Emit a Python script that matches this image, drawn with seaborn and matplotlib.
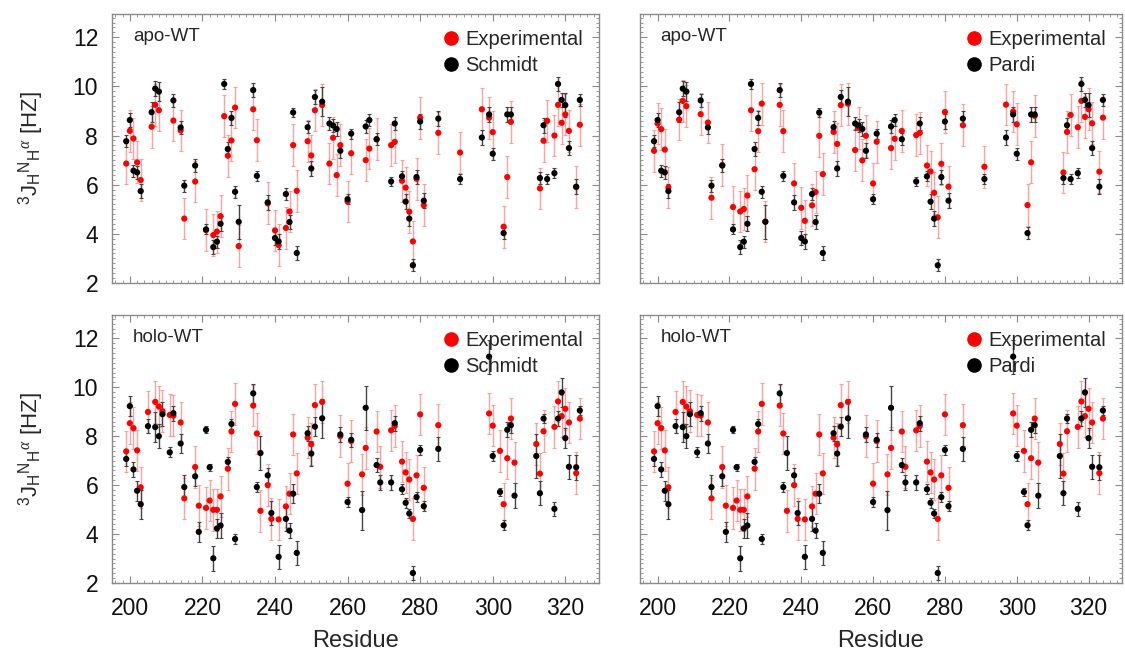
import numpy as np
import pandas as pd
import matplotlib
matplotlib.use('Agg')
import matplotlib.pyplot as plt
import seaborn as sns
from matplotlib.lines import Line2D
from matplotlib.ticker import MultipleLocator

# apo-WT (top row); calculated values are the same in both panels
apo_res = [199, 200, 201, 202, 203, 206, 207, 208, 212, 214, 215, 218, 221, 223, 224, 225,
           226, 227, 228, 229, 230, 234, 235, 238, 240, 241, 243, 244, 245, 246, 249, 250,
           251, 253, 255, 256, 257, 258, 260, 261, 265, 266, 268, 272, 273, 275, 276, 277,
           278, 279, 280, 281, 285, 291, 297, 299, 300, 303, 304, 305, 313, 314, 315, 317,
           318, 319, 320, 321, 323, 324]
apo_calc = [7.77, 8.63, 6.57, 6.5, 5.74, 8.95, 9.91, 9.79, 9.43, 8.33, 5.96, 6.78, 4.18, 3.46,
            3.68, 4.41, 10.1, 7.45, 8.72, 5.71, 4.49, 9.85, 6.36, 5.28, 3.83, 3.69, 5.62, 4.48,
            8.94, 3.22, 8.34, 6.66, 9.57, 9.38, 8.49, 8.41, 8.27, 7.38, 5.41, 8.08, 8.37, 8.63,
            7.85, 6.13, 8.49, 6.34, 5.31, 4.62, 2.72, 6.31, 8.57, 5.35, 8.69, 6.23, 7.92, 8.86,
            7.26, 4.03, 8.86, 8.86, 6.27, 8.42, 6.23, 6.47, 10.1, 9.45, 9.24, 7.49, 5.92, 9.45]
apo_calc_err = [0.25, 0.3, 0.25, 0.25, 0.3, 0.4, 0.3, 0.4, 0.25, 0.25, 0.25, 0.25, 0.2, 0.3,
                0.25, 0.3, 0.2, 0.3, 0.3, 0.25, 0.7, 0.3, 0.2, 0.3, 0.3, 0.3, 0.25, 0.3,
                0.2, 0.3, 0.25, 0.3, 0.3, 0.6, 0.25, 0.25, 0.3, 0.3, 0.2, 0.2, 0.25, 0.25,
                0.25, 0.2, 0.25, 0.2, 0.3, 0.3, 0.25, 0.3, 0.3, 0.3, 0.3, 0.2, 0.3, 0.3,
                0.25, 0.25, 0.3, 0.3, 0.25, 0.3, 0.2, 0.2, 0.3, 0.3, 0.5, 0.3, 0.3, 0.25]
apo_exp_schmidt = [6.86, 8.19, 7.88, 6.91, 6.19, 8.36, 9.25, 9.03, 8.61, 8.21, 4.62, 6.13, 4.15,
                   3.95, 4.09, 4.72, 8.79, 7.18, 7.8, 9.14, 3.5, 9.07, 7.81, 5.24, 4.14, 3.54,
                   4.24, 4.91, 7.61, 5.75, 7.77, 7.19, 9.03, 9.24, 6.86, 7.91, 6.39, 7.61, 5.32,
                   7.28, 7.0, 7.47, 7.85, 7.61, 7.74, 6.16, 5.88, 4.9, 3.69, 6.24, 8.73, 5.16,
                   8.11, 7.31, 9.07, 8.73, 8.14, 4.29, 6.31, 8.56, 5.85, 7.79, 8.6, 8.0, 9.25,
                   8.52, 8.86, 8.19, 5.9, 8.44]
apo_exp_pardi = [7.38, 8.49, 8.26, 7.43, 5.89, 8.65, 9.41, 9.2, 8.87, 8.53, 5.47, 6.8, 5.09,
                 4.91, 5.01, 5.56, 9.03, 6.63, 8.18, 9.3, 4.5, 9.25, 8.18, 6.05, 5.06, 4.53,
                 5.16, 5.7, 7.99, 6.43, 8.15, 7.66, 9.24, 9.3, 7.41, 8.31, 6.99, 7.99, 6.05,
                 7.75, 7.49, 7.87, 8.19, 8.02, 8.11, 6.78, 6.54, 5.67, 4.67, 6.85, 8.96, 5.92,
                 8.42, 6.73, 9.26, 8.98, 8.46, 5.17, 6.91, 8.8, 6.5, 8.15, 8.84, 8.34, 9.41,
                 8.76, 9.07, 8.5, 6.53, 8.73]

# holo-WT (bottom row); both panels show the same values
holo_res = [199, 200, 201, 202, 203, 205, 207, 208, 209, 211, 212, 214, 215, 218, 219, 221,
            222, 223, 224, 225, 227, 228, 229, 234, 235, 236, 238, 239, 241, 243, 244, 245,
            246, 249, 250, 251, 253, 258, 260, 261, 264, 265, 268, 269, 272, 273, 275, 276,
            277, 278, 279, 280, 281, 285, 299, 300, 302, 303, 304, 305, 306, 312, 313, 314,
            317, 318, 319, 320, 321, 323, 324]
holo_calc = [7.07, 9.23, 6.64, 5.77, 5.22, 8.41, 8.37, 8.0, 8.9, 7.34, 8.94, 7.7, 5.92, 6.36,
             4.09, 8.26, 6.73, 3.01, 4.23, 4.35, 6.95, 8.5, 3.8, 9.75, 5.92, 7.31, 6.4, 4.86,
             3.07, 4.62, 4.14, 5.65, 3.23, 8.12, 7.29, 8.39, 8.73, 8.07, 5.31, 7.85, 4.98, 9.16,
             6.82, 6.11, 6.11, 8.53, 5.83, 5.28, 4.84, 2.41, 5.51, 7.44, 5.14, 7.48, 11.25, 7.19,
             5.72, 4.36, 8.26, 8.45, 5.57, 7.19, 5.67, 8.72, 5.03, 8.72, 9.79, 7.92, 6.75, 6.73,
             9.05]
holo_calc_err = [0.3, 0.4, 0.3, 0.4, 0.6, 0.3, 0.6, 0.5, 0.5, 0.2, 0.3, 0.4, 0.5, 0.4, 0.4,
                 0.15, 0.15, 0.5, 0.4, 0.5, 0.2, 0.2, 0.2, 0.4, 0.2, 0.7, 0.3, 0.5, 0.5, 0.5,
                 0.3, 0.4, 0.5, 0.3, 0.5, 0.4, 0.8, 0.3, 0.2, 0.3, 0.8, 0.9, 0.3, 0.3, 0.3,
                 0.3, 0.2, 0.2, 0.2, 0.3, 0.2, 0.2, 0.2, 0.5, 0.7, 0.2, 0.15, 0.2, 0.3, 0.3,
                 0.5, 0.9, 0.5, 0.2, 0.3, 0.3, 0.6, 0.4, 0.5, 0.5, 0.2]
holo_exp = [7.38, 8.53, 8.33, 7.42, 5.91, 8.99, 9.4, 9.21, 9.02, 8.87, 8.84, 8.56, 5.46, 6.74,
            5.16, 5.07, 5.37, 4.99, 4.99, 5.54, 6.67, 8.19, 9.32, 9.25, 8.11, 4.95, 6.0, 4.62,
            4.6, 5.13, 5.65, 8.07, 6.48, 7.94, 7.67, 9.27, 9.4, 8.0, 6.06, 7.8, 6.44, 7.52,
            8.19, 6.75, 8.24, 8.42, 6.96, 6.52, 6.23, 4.62, 6.4, 8.89, 5.89, 8.45, 8.93, 8.43,
            7.4, 5.22, 7.1, 8.72, 6.92, 7.68, 6.47, 8.2, 8.38, 9.42, 8.82, 9.12, 8.56, 6.49,
            8.72]
exp_err = 0.85

sns.set_style('ticks')
plt.rcParams['font.family'] = ['Liberation Sans', 'DejaVu Sans']
plt.rcParams['mathtext.fontset'] = 'custom'
plt.rcParams['mathtext.rm'] = 'Liberation Sans'
plt.rcParams['mathtext.it'] = 'Liberation Serif:italic'

ylab = r'$^{3}\mathrm{J}_{\mathrm{H}}{}^{\mathrm{N}}{}_{\mathrm{H}}{}^{\alpha}$ [HZ]'


def draw_panel(ax, res, exp, calc, calc_err, name, model, left, bottom):
    df = pd.DataFrame({'residue': list(res) + list(res),
                       'J': list(exp) + list(calc),
                       'source': ['Experimental'] * len(res) + [model] * len(res)})
    ax.errorbar(res, exp, yerr=exp_err, fmt='none', ecolor='#ff8a8a', elinewidth=1,
                capsize=1.5, capthick=0.8, alpha=0.8, zorder=1)
    ax.errorbar(res, calc, yerr=calc_err, fmt='none', ecolor='#444444', elinewidth=1,
                capsize=1.5, capthick=0.8, zorder=2)
    sns.scatterplot(data=df, x='residue', y='J', hue='source',
                    palette={'Experimental': 'red', model: 'black'},
                    s=20, linewidth=0, legend=False, ax=ax, zorder=3)
    ax.set_xlim(195.1, 329.3)
    ax.set_ylim(2, 12.95)
    ax.xaxis.set_major_locator(MultipleLocator(20))
    ax.xaxis.set_minor_locator(MultipleLocator(2))
    ax.yaxis.set_major_locator(MultipleLocator(2))
    ax.yaxis.set_minor_locator(MultipleLocator(0.2))
    ax.tick_params(which='both', direction='in', top=True, right=True, color='#8a8a8a',
                   labelsize=16.5, labelcolor='#111111')
    ax.tick_params(which='major', length=5, width=0.8)
    ax.tick_params(which='minor', length=2.5, width=0.6)
    ax.tick_params(axis='x', pad=10)
    ax.tick_params(axis='y', pad=10)
    for sp in ax.spines.values():
        sp.set_color('#8a8a8a')
        sp.set_linewidth(1)
    ax.set_xlabel('Residue' if bottom else '', fontsize=17, labelpad=7)
    ax.set_ylabel(ylab if left else '', fontsize=16, labelpad=19)
    if not bottom:
        ax.tick_params(axis='x', labelbottom=False)
    if not left:
        ax.tick_params(axis='y', labelleft=False)
    ax.text(0.043, 0.915, name, transform=ax.transAxes, fontsize=13.5, va='center')
    handles = [Line2D([], [], marker='o', ls='', color='red', markersize=9.5),
               Line2D([], [], marker='o', ls='', color='black', markersize=9.5)]
    ax.legend(handles, ['Experimental', model], loc='upper right', frameon=False,
              fontsize=14.5, handletextpad=0.2, labelspacing=0.35, handlelength=1.0,
              borderaxespad=0.4)


fig = plt.figure(figsize=(11.25, 6.52), dpi=100)
ax1 = fig.add_axes([0.0996, 0.566, 0.4329, 0.4126])
ax2 = fig.add_axes([0.5689, 0.566, 0.4284, 0.4126])
ax3 = fig.add_axes([0.0996, 0.1058, 0.4329, 0.411])
ax4 = fig.add_axes([0.5689, 0.1058, 0.4284, 0.411])

draw_panel(ax1, apo_res, apo_exp_schmidt, apo_calc, apo_calc_err, 'apo-WT', 'Schmidt', True, False)
draw_panel(ax2, apo_res, apo_exp_pardi, apo_calc, apo_calc_err, 'apo-WT', 'Pardi', False, False)
draw_panel(ax3, holo_res, holo_exp, holo_calc, holo_calc_err, 'holo-WT', 'Schmidt', True, True)
draw_panel(ax4, holo_res, holo_exp, holo_calc, holo_calc_err, 'holo-WT', 'Pardi', False, True)

fig.savefig('out.png', dpi=100)
